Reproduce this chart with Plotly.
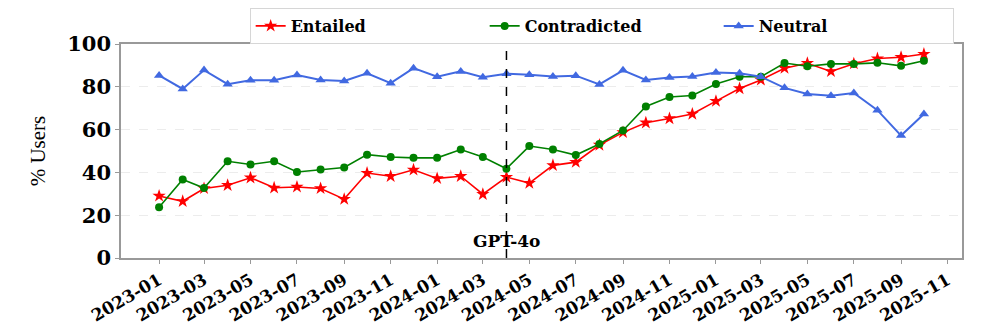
import pandas as pd
import plotly.graph_objects as go

# monthly buckets, 2023-01 .. 2025-10
months = pd.date_range("2023-01-01", periods=34, freq="MS")

entailed = [29, 26.5, 32.5, 34, 37.5, 32.8, 33.2, 32.5, 27.5, 39.7, 38.2, 41.2,
            37.2, 38.2, 29.8, 37.8, 35, 43.3, 44.8, 52.8, 58.7, 63.2, 65.2, 67.3,
            73.3, 79.2, 83.2, 88.7, 91, 87.2, 90.8, 93.2, 93.8, 95.3]
contradicted = [23.7, 36.7, 32.7, 45.2, 43.7, 45.2, 40.2, 41.3, 42.3, 48.3, 47.2, 46.8,
                46.8, 50.7, 47.2, 41.7, 52.3, 50.7, 48.1, 53.3, 59.6, 70.8, 75.2, 75.9,
                81.3, 84.7, 84.7, 91.1, 89.6, 90.7, 90.7, 91.2, 89.8, 92.2]
neutral = [85.3, 79, 87.8, 81.2, 83.1, 83.1, 85.5, 83.2, 82.7, 86.3, 81.7, 88.7,
           84.7, 87.2, 84.5, 86.1, 85.6, 84.8, 85.2, 81.1, 87.7, 83.2, 84.3, 84.8,
           86.7, 86.3, 84.7, 79.5, 76.6, 75.8, 77.1, 69.1, 57.2, 67.3]

series = [
    ("Entailed", entailed, "#ff0000", "star", 10, 1.6),
    ("Contradicted", contradicted, "#008000", "circle", 8, 1.6),
    ("Neutral", neutral, "#4169e1", "triangle-up", 9, 2),
]

gpt4o_month = "2024-04-01"

serif = "DejaVu Serif"

fig = go.Figure()
for name, vals, color, symbol, size, lw in series:
    fig.add_trace(go.Scatter(x=months, y=vals, name=name, mode="lines+markers",
                             line=dict(color=color, width=lw),
                             marker=dict(symbol=symbol, size=size, color=color)))

fig.add_vline(x=gpt4o_month, line=dict(color="black", width=1.5, dash="dash"))
fig.add_annotation(x=gpt4o_month, y=8, text="GPT-4o", showarrow=False,
                   font=dict(family=serif, size=17, color="black", weight="bold"))

axis_common = dict(showline=True, linecolor="#999999", linewidth=1.5, mirror=True,
                   ticks="outside", ticklen=4, tickcolor="#999999", automargin=False)

fig.update_xaxes(type="date", range=["2022-11-12", "2025-11-20"],
                 tick0="2023-01-01", dtick="M2", tickformat="%Y-%m", tickangle=-30,
                 tickfont=dict(family=serif, size=17, color="black", weight="bold"),
                 showgrid=False, **axis_common)
fig.update_yaxes(range=[0, 100], dtick=20,
                 tickfont=dict(family=serif, size=21, color="black", weight="bold"),
                 title=dict(text="% Users", font=dict(family="Liberation Serif", size=21, color="black"),
                            standoff=16),
                 showgrid=True, gridcolor="#ececec", griddash="dash", gridwidth=1,
                 zeroline=False, **axis_common)

# page body adds an 8px offset, so margins are shifted to keep the plot box in place
fig.update_layout(
    width=996, height=327,
    margin=dict(l=113, r=42, t=34, b=77),
    plot_bgcolor="white", paper_bgcolor="white",
    legend=dict(orientation="h", x=0.153, xanchor="left",
                yref="container", y=1, yanchor="top",
                bordercolor="#d6d6d6", borderwidth=1,
                font=dict(family=serif, size=16, color="black", weight="bold"),
                entrywidth=189, itemwidth=30),
)

fig.write_html("out.html")
